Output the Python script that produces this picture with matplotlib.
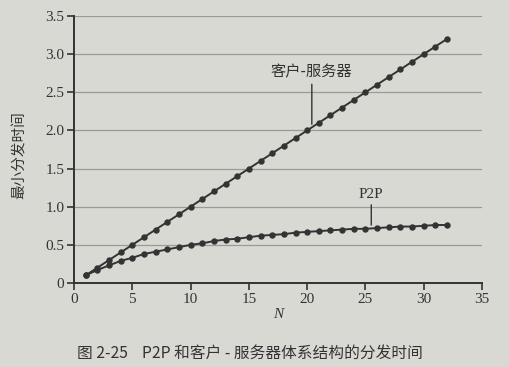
import matplotlib
matplotlib.use('Agg')
import matplotlib.pyplot as plt

# distribution time vs number of peers N
N = list(range(1, 33))
client_server = [0.10, 0.20, 0.30, 0.40, 0.50, 0.60, 0.70, 0.80, 0.90, 1.00,
                 1.10, 1.20, 1.30, 1.40, 1.50, 1.60, 1.70, 1.80, 1.90, 2.00,
                 2.10, 2.20, 2.30, 2.40, 2.50, 2.60, 2.70, 2.80, 2.90, 3.00,
                 3.10, 3.20]
p2p = [0.10, 0.17, 0.23, 0.29, 0.33, 0.38, 0.41, 0.44, 0.47, 0.50,
       0.52, 0.55, 0.57, 0.58, 0.60, 0.62, 0.63, 0.64, 0.66, 0.67,
       0.68, 0.69, 0.70, 0.71, 0.71, 0.72, 0.73, 0.74, 0.74, 0.75,
       0.76, 0.76]
xticks = [0, 5, 10, 15, 20, 25, 30, 35]
yticks = [0, 0.5, 1.0, 1.5, 2.0, 2.5, 3.0, 3.5]
ytick_labels = ['0', '0.5', '1.0', '1.5', '2.0', '2.5', '3.0', '3.5']

BG = '#d9d9d4'
INK = '#333333'
CJK = ['Noto Sans CJK SC', 'DejaVu Sans']
SERIF = 'Liberation Serif'

fig = plt.figure(figsize=(5.09, 3.67), dpi=100, facecolor=BG)
ax = fig.add_axes([0.1454, 0.2289, 0.8016, 0.7275], facecolor=BG)

for y in yticks[1:]:
    ax.axhline(y, color='#9a9a96', lw=0.9, zorder=1)

ax.plot(N, client_server, color=INK, lw=1.4, marker='o', ms=3.6, zorder=3)
ax.plot(N, p2p, color=INK, lw=1.4, marker='o', ms=3.6, zorder=3)

ax.set_xlim(0, 35); ax.set_ylim(0, 3.5)
ax.set_xticks(xticks); ax.set_yticks(yticks)
ax.set_yticklabels(ytick_labels)
ax.tick_params(direction='out', length=5, width=1.2, color=INK,
               labelsize=11, labelcolor=INK, pad=2)
for lab in ax.get_xticklabels() + ax.get_yticklabels():
    lab.set_family(SERIF)
for s in ('top', 'right'):
    ax.spines[s].set_visible(False)
for s in ('left', 'bottom'):
    ax.spines[s].set_color(INK); ax.spines[s].set_linewidth(1.4)

ax.set_xlabel('N', fontsize=11, family=SERIF, style='italic', color=INK, labelpad=2)
ax.set_ylabel('最小分发时间', fontsize=10.5, family=CJK, color=INK)
ax.yaxis.set_label_coords(-0.115, 0.48)

# callouts
ax.annotate('客户-服务器', xy=(20.4, 2.08), xytext=(20.4, 2.66),
            ha='center', va='bottom', fontsize=11, family=CJK, color=INK,
            arrowprops=dict(arrowstyle='-', color=INK, lw=1.0, shrinkA=1, shrinkB=0))
ax.annotate('P2P', xy=(25.5, 0.76), xytext=(25.5, 1.08),
            ha='center', va='bottom', fontsize=11, family=SERIF, color=INK,
            arrowprops=dict(arrowstyle='-', color=INK, lw=1.0, shrinkA=1, shrinkB=0))

fig.text(0.152, 0.038, '图 2-25    P2P 和客户 - 服务器体系结构的分发时间',
         fontsize=11.3, family=CJK, color=INK, ha='left', va='center')

fig.savefig('out.png', dpi=100, facecolor=BG)
